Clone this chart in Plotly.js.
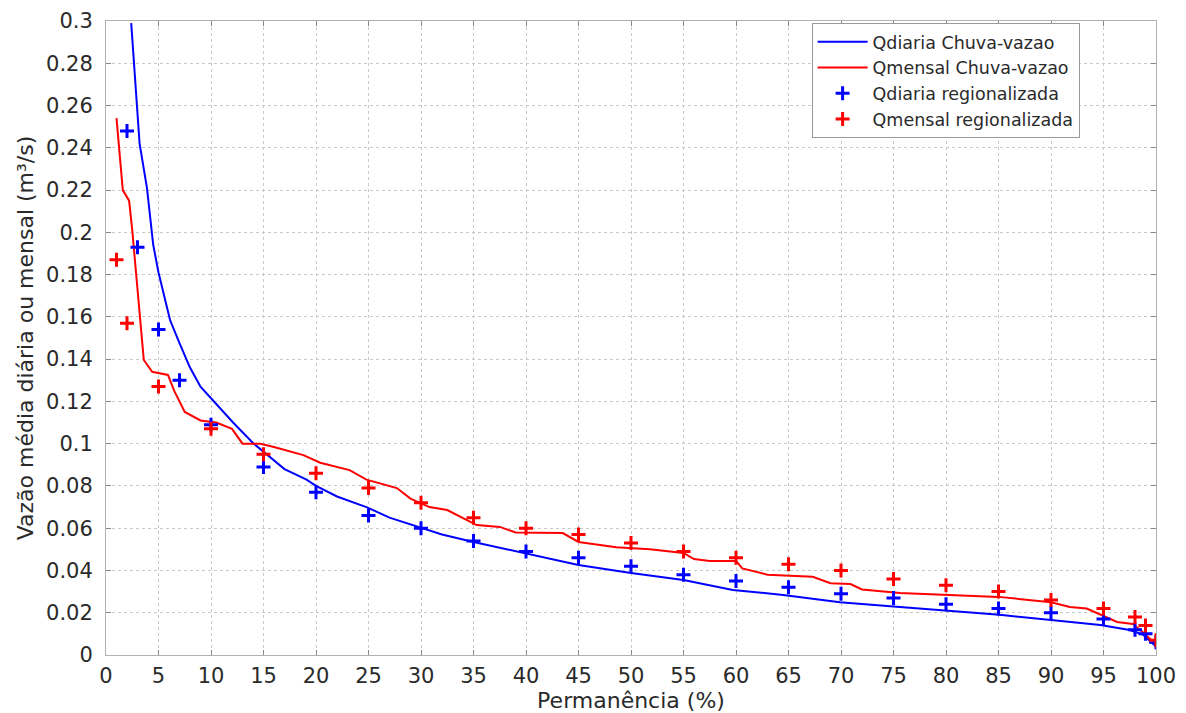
<!DOCTYPE html>
<html>
<head>
<meta charset="utf-8">
<script src="https://cdn.plot.ly/plotly-3.0.1.min.js"></script>
<style>html,body{margin:0;padding:0;background:#fff;}#chart{width:1186px;height:713px;}</style>
</head>
<body>
<div id="chart"></div>
<script>
// Qdiaria Chuva-vazao (line)
const diariaLineX = [2.4, 3.2, 3.9, 4.5, 5, 6.1, 7, 8, 9, 9.9, 11, 12.1, 14, 15.6, 17, 19.1, 20, 22, 24.8, 27, 30.1, 32, 35, 37.5, 40.1, 42.5, 45, 47.5, 50, 55, 59.7, 64.5, 69.9, 75, 79.7, 85.1, 90, 94.7, 97.5, 98.8, 100];
const diariaLineY = [0.299, 0.242, 0.221, 0.194, 0.181, 0.1585, 0.1476, 0.136, 0.127, 0.122, 0.116, 0.11, 0.1003, 0.0937, 0.088, 0.083, 0.080, 0.075, 0.070, 0.065, 0.060, 0.057, 0.0535, 0.0508, 0.048, 0.0453, 0.0426, 0.0407, 0.0388, 0.0355, 0.0308, 0.0284, 0.025, 0.023, 0.0213, 0.019, 0.0166, 0.0142, 0.0118, 0.0095, 0.004];
// Qmensal Chuva-vazao (line)
const mensalLineX = [1, 1.6, 2.2, 2.5, 3.6, 4.4, 5.9, 6.5, 7.5, 9, 10.5, 12, 13, 14.7, 15.9, 18.8, 20.4, 23.2, 24.8, 27.7, 29, 30.8, 32.5, 35.3, 37.5, 39, 43.5, 45, 48.6, 51.8, 55, 56, 57.5, 60, 60.6, 63, 67.3, 69, 70.9, 72, 75.6, 80.4, 85, 90, 91.8, 93.4, 95.3, 96.3, 97.8, 98.7, 100];
const mensalLineY = [0.254, 0.22, 0.215, 0.201, 0.1396, 0.134, 0.1325, 0.125, 0.115, 0.111, 0.110, 0.107, 0.100, 0.100, 0.0985, 0.0946, 0.091, 0.0875, 0.083, 0.079, 0.074, 0.070, 0.0686, 0.0615, 0.0606, 0.058, 0.0577, 0.0535, 0.051, 0.050, 0.0483, 0.0454, 0.0445, 0.0445, 0.041, 0.038, 0.037, 0.034, 0.0336, 0.031, 0.0293, 0.0284, 0.0275, 0.025, 0.0227, 0.022, 0.018, 0.0156, 0.0147, 0.011, 0.005];
// Regionalized points
const diariaPtsX = [2, 3, 5, 7, 10, 15, 20, 25, 30, 35, 40, 45, 50, 55, 60, 65, 70, 75, 80, 85, 90, 95, 98, 99, 100];
const diariaPtsY = [0.248, 0.193, 0.154, 0.130, 0.109, 0.089, 0.077, 0.066, 0.060, 0.054, 0.049, 0.046, 0.042, 0.038, 0.035, 0.032, 0.029, 0.027, 0.024, 0.022, 0.020, 0.017, 0.012, 0.010, 0.006];
const mensalPtsX = [1, 2, 5, 10, 15, 20, 25, 30, 35, 40, 45, 50, 55, 60, 65, 70, 75, 80, 85, 90, 95, 98, 99, 100];
const mensalPtsY = [0.187, 0.157, 0.127, 0.107, 0.095, 0.086, 0.079, 0.072, 0.065, 0.060, 0.057, 0.053, 0.049, 0.046, 0.043, 0.040, 0.036, 0.033, 0.030, 0.026, 0.022, 0.018, 0.014, 0.007];

const xTicks = [0,5,10,15,20,25,30,35,40,45,50,55,60,65,70,75,80,85,90,95,100];
const yTicks = [0,0.02,0.04,0.06,0.08,0.1,0.12,0.14,0.16,0.18,0.2,0.22,0.24,0.26,0.28,0.3];
const yTickText = ['0','0.02','0.04','0.06','0.08','0.1','0.12','0.14','0.16','0.18','0.2','0.22','0.24','0.26','0.28','0.3'];

const font = 'DejaVu Sans, sans-serif';
const traces = [
  {x: diariaLineX, y: diariaLineY, mode: 'lines', name: 'Qdiaria Chuva-vazao', line: {color: '#0000ff', width: 2}},
  {x: mensalLineX, y: mensalLineY, mode: 'lines', name: 'Qmensal Chuva-vazao', line: {color: '#ff0000', width: 2}},
  {x: diariaPtsX, y: diariaPtsY, mode: 'markers', name: 'Qdiaria regionalizada', marker: {symbol: 'cross-thin', size: 10, line: {color: '#0000ff', width: 3}}},
  {x: mensalPtsX, y: mensalPtsY, mode: 'markers', name: 'Qmensal regionalizada', marker: {symbol: 'cross-thin', size: 10, line: {color: '#ff0000', width: 3}}}
];
const axisCommon = {
  showline: true, linecolor: '#b0b0b0', linewidth: 1, mirror: 'ticks',
  ticks: 'inside', ticklen: 5, tickcolor: '#888', tickwidth: 1,
  showgrid: true, gridcolor: '#c8c8c8', griddash: 'dot', gridwidth: 1,
  zeroline: false, tickfont: {family: font, size: 21, color: '#2a2a2a'}
};
const layout = {
  width: 1186, height: 713,
  margin: {l: 106, r: 30, t: 21, b: 58},
  paper_bgcolor: '#fff', plot_bgcolor: '#fff',
  showlegend: true,
  legend: {x: 0.672, y: 0.997, xanchor: 'left', yanchor: 'top', bgcolor: '#fff', bordercolor: '#999', borderwidth: 1,
           font: {family: font, size: 17.5, color: '#2a2a2a'}, tracegroupgap: 0, itemwidth: 50, entrywidth: 285},
  xaxis: Object.assign({}, axisCommon, {range: [0, 100], tickvals: xTicks, ticktext: xTicks.map(String), ticklabelstandoff: 2,
           title: {text: 'Permanência (%)', font: {family: font, size: 22, color: '#2a2a2a'}, standoff: 0}}),
  yaxis: Object.assign({}, axisCommon, {range: [0, 0.3], tickvals: yTicks, ticktext: yTickText, ticklabelstandoff: 8,
           title: {text: 'Vazão média diária ou mensal (m³/s)', font: {family: font, size: 22, color: '#2a2a2a'}, standoff: 6}})
};
Plotly.newPlot('chart', traces, layout, {displayModeBar: false, staticPlot: true});
</script>
</body>
</html>
